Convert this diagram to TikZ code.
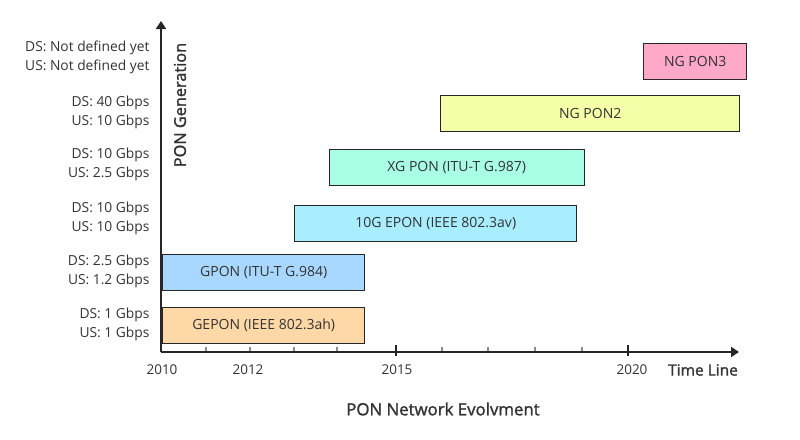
\documentclass[tikz,border=0pt]{standalone}
\usepackage{fontspec}
\setmainfont{Open Sans}
\newfontfamily\semib{Open Sans}[FakeBold=1.5]
\usetikzlibrary{arrows.meta}
\definecolor{txt}{HTML}{333333}
\definecolor{axisc}{HTML}{262626}
\definecolor{minorc}{HTML}{8A8A8A}
\definecolor{cgepon}{HTML}{FFD8A8}
\definecolor{cgpon}{HTML}{A8D8FF}
\definecolor{cepon}{HTML}{A8EEFF}
\definecolor{cxg}{HTML}{A8FFE6}
\definecolor{cng2}{HTML}{F5FFA8}
\definecolor{cng3}{HTML}{FFA8C8}
\tikzset{
  bar/.style={draw=axisc, line width=1.4pt, anchor=north west, inner sep=0pt,
    text=txt, font=\fontsize{14}{16}\selectfont},
  rate/.style={anchor=east, align=right, text=txt, font=\fontsize{13.8}{19}\selectfont},
  yearlbl/.style={text=txt, font=\fontsize{13.5}{15}\selectfont},
  axislbl/.style={text=txt, font=\fontsize{15.5}{17}\selectfont\semib},
  axisline/.style={draw=axisc, line width=2pt, -{Triangle[length=8pt,width=10pt]}},
  minortick/.style={draw=minorc, line width=1.5pt},
  majortick/.style={draw=axisc, line width=2.2pt}
}
\begin{document}
\begin{tikzpicture}[x=1pt,y=-1pt]
\useasboundingbox (0,0) rectangle (800,439);
% axes
\coordinate (origin) at (161,352);
\coordinate (yend) at (161,21);
\coordinate (xend) at (739,352);
% ticks
\foreach \x in {206,250,294,337,442,488,535,582} {
  \draw[minortick] (\x,346.5) -- (\x,352);
}
\foreach \x in {396,628} {
  \draw[majortick] (\x,345) -- (\x,356);
}
\draw[axisline] (origin) -- (xend);
\draw[axisline] (origin) -- (yend);
% bars
\node[bar, fill=cgepon, minimum width=202pt, minimum height=36pt] (gepon) at (162,307) {GEPON (IEEE 802.3ah)};
\node[bar, fill=cgpon, minimum width=202pt, minimum height=36pt] (gpon) at (162,254) {GPON (ITU-T G.984)};
\node[bar, fill=cepon, minimum width=282pt, minimum height=36pt] (epon) at (294,204.5) {10G EPON (IEEE 802.3av)};
\node[bar, fill=cxg, minimum width=255pt, minimum height=36pt] (xgpon) at (328.5,149) {XG PON (ITU-T G.987)};
\node[bar, fill=cng2, minimum width=299pt, minimum height=36pt] (ngpon2) at (440,94.5) {NG PON2};
\node[bar, fill=cng3, minimum width=103pt, minimum height=36pt] (ngpon3) at (643,42.5) {NG PON3};
% rate labels
\node[rate] (r6) at (153,57.5) {DS: Not defined yet\\US: Not defined yet};
\node[rate] (r5) at (153,112) {DS: 40 Gbps\\US: 10 Gbps};
\node[rate] (r4) at (153,164) {DS: 10 Gbps\\US: 2.5 Gbps};
\node[rate] (r3) at (153,218.5) {DS: 10 Gbps\\US: 10 Gbps};
\node[rate] (r2) at (153,271.5) {DS: 2.5 Gbps\\US: 1.2 Gbps};
\node[rate] (r1) at (153,324) {DS: 1 Gbps\\US: 1 Gbps};
% year labels
\node[yearlbl] (y2010) at (162,370) {2010};
\node[yearlbl] (y2012) at (248,370) {2012};
\node[yearlbl] (y2015) at (397,370) {2015};
\node[yearlbl] (y2020) at (632,370) {2020};
\node[axislbl] (timeline) at (703,370) {Time Line};
\node[axislbl, font=\fontsize{16.8}{18}\selectfont\semib] (title) at (443,409) {PON Network Evolvment};
\node[axislbl, font=\fontsize{16.3}{18}\selectfont\semib, rotate=90] (gen) at (180,105) {PON Generation};
\end{tikzpicture}
\end{document}
